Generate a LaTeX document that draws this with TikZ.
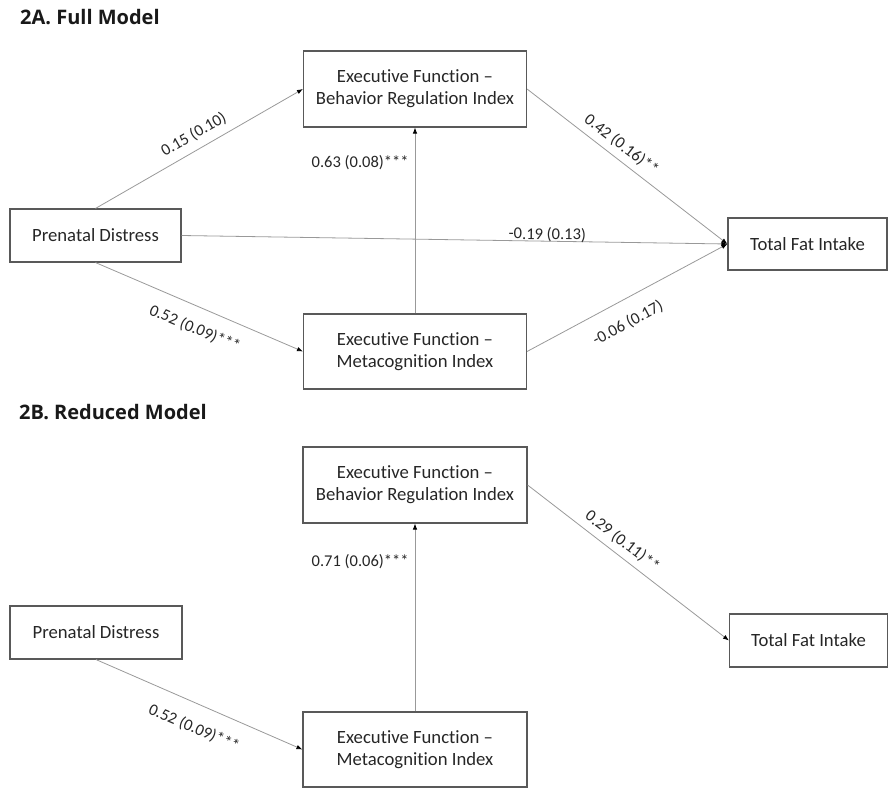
\documentclass[tikz,border=0pt]{standalone}
\usepackage{fontspec}
\setmainfont{Carlito}[Ligatures=NoCommon]
\newfontfamily\headfont{Open Sans}
\usetikzlibrary{arrows.meta}

\begin{document}
\begin{tikzpicture}[x=1pt, y=-1pt,
        box/.style={draw=black!65, line width=1.1pt, inner sep=0pt, align=center, text=black!85, font=\fontsize{18.7}{22}\selectfont},
        link/.style={draw=black!40, line width=0.8pt, -{Latex[length=6pt, width=4.5pt, color=black]}},
        coef/.style={inner sep=1pt, text=black!85, font=\fontsize{16.5}{19}\selectfont},
        head/.style={anchor=west, inner sep=0pt, text=black!90, font=\headfont\bfseries\fontsize{20}{24}\selectfont}]
        \useasboundingbox (0,0) rectangle (888,787);
        \begin{scope}
            \node[head] (titleA) at (20,17) {2A. Full Model};
            \node[box, minimum width=223pt, minimum height=76pt] (BRa) at (415,89) {Executive Function –\\Behavior Regulation Index};
            \node[box, minimum width=171pt, minimum height=53pt] (PDa) at (95.5,235.5) {Prenatal Distress};
            \node[box, minimum width=223pt, minimum height=75pt] (MCa) at (415,351.5) {Executive Function –\\Metacognition Index};
            \node[box, minimum width=159pt, minimum height=52pt] (TFa) at (807.5,244) {Total Fat Intake};
            \draw[link] (PDa.north) -- node[coef, sloped, above=6.5pt, pos=0.51] {0.15 (0.10)} (BRa.west);
            \draw[link] (PDa.south) -- node[coef, sloped, below=13pt, pos=0.52] {0.52 (0.09)***} (MCa.west);
            \draw[link] (MCa.north) -- node[coef, left=5pt, pos=0.81] {0.63 (0.08)***} (BRa.south);
            \draw[link] (PDa.east) -- node[coef, sloped, above=-2pt, pos=0.67] {-0.19 (0.13)} (TFa.west);
            \draw[link] (BRa.east) -- node[coef, sloped, above=5pt, pos=0.43] {0.42 (0.16)**} (TFa.west);
            \draw[link] (MCa.east) -- node[coef, sloped, below=14pt, pos=0.45] {-0.06 (0.17)} (TFa.west);
        \end{scope}
        \begin{scope}[shift={(0,396)}]
            \node[head] (titleB) at (19,16) {2B. Reduced Model};
            \node[box, minimum width=224pt, minimum height=76pt] (BRb) at (415,89) {Executive Function –\\Behavior Regulation Index};
            \node[box, minimum width=172pt, minimum height=53pt] (PDb) at (96,236.5) {Prenatal Distress};
            \node[box, minimum width=224pt, minimum height=75pt] (MCb) at (415,353.5) {Executive Function –\\Metacognition Index};
            \node[box, minimum width=158pt, minimum height=53pt] (TFb) at (808.5,244.5) {Total Fat Intake};
            \draw[link] (PDb.south) -- node[coef, sloped, below=15pt, pos=0.52] {0.52 (0.09)***} (MCb.west);
            \draw[link] (MCb.north) -- node[coef, left=5pt, pos=0.80] {0.71 (0.06)***} (BRb.south);
            \draw[link] (BRb.east) -- node[coef, sloped, above=5pt, pos=0.43] {0.29 (0.11)**} (TFb.west);
        \end{scope}
    \end{tikzpicture}
\end{document}
